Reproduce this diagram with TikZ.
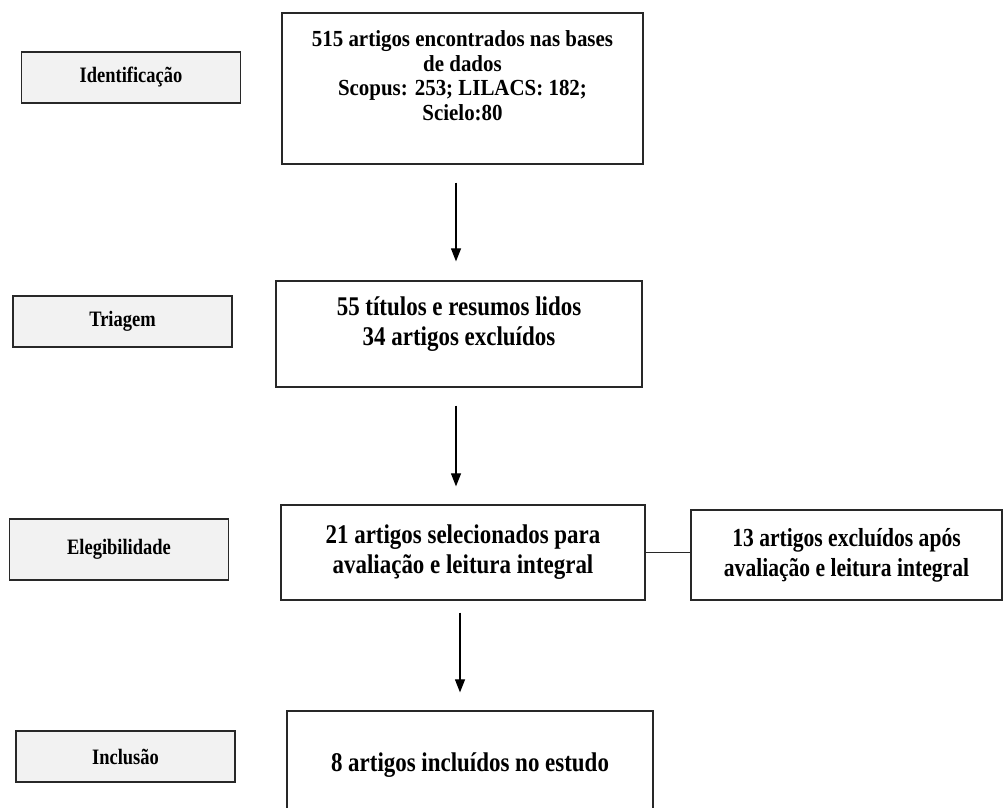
\documentclass[tikz,border=0pt]{standalone}
\usepackage{fontspec}
\setmainfont{Liberation Serif}
\newfontfamily\fA[FakeStretch=0.91]{Liberation Serif}
\newfontfamily\fB[FakeStretch=0.85]{Liberation Serif}
\newfontfamily\fE[FakeStretch=0.83]{Liberation Serif}
\newfontfamily\fL[FakeStretch=0.84]{Liberation Serif}
\usetikzlibrary{arrows.meta,calc}
\definecolor{labfill}{RGB}{242,242,242}
\definecolor{edge}{RGB}{40,40,40}
\begin{document}
\begin{tikzpicture}[x=1pt,y=-1pt,
  lab/.style={draw=edge, line width=1.3pt, fill=labfill, minimum width=219pt,
    minimum height=51pt, inner sep=0pt, font=\fL\bfseries\fontsize{22}{26}\selectfont},
  box/.style={draw=edge, line width=1.3pt, inner sep=0pt, align=center},
  txtA/.style={inner sep=0pt, align=center, font=\fA\bfseries\fontsize{23}{24.5}\selectfont},
  txtB/.style={inner sep=0pt, align=center, font=\fB\bfseries\fontsize{27}{30}\selectfont},
  txtC/.style={font=\fE\bfseries\fontsize{26}{30}\selectfont},
  arr/.style={draw=black, line width=1.1pt, -{Triangle[width=10pt,length=13pt]}},
  link/.style={draw=edge, line width=1.3pt}]
\useasboundingbox (0,0) rectangle (1004,807);
\clip (0,0) rectangle (1004,807);

% stage labels
\node[lab] (l1) at (131,77.5) {Identificação};
\node[lab] (l2) at (122.5,321.5) {Triagem};
\node[lab, minimum height=61pt] (l3) at (119,549.5) {Elegibilidade};
\node[lab] (l4) at (125.5,756.5) {Inclusão};

% main boxes
\node[box, minimum width=361pt, minimum height=151pt] (b1) at (462.5,88.5) {};
\node[txtA, anchor=north] (t1) at ($(b1.north)+(0,18)$)
  {515 artigos encontrados nas bases\\de dados\\Scopus: 253; LILACS: 182;\\Scielo:80};

\node[box, minimum width=366pt, minimum height=106pt] (b2) at (459,334) {};
\node[txtB, anchor=north] (t2) at ($(b2.north)+(0,16)$)
  {55 títulos e resumos lidos\\34 artigos excluídos};

\node[box, txtB, minimum width=364pt, minimum height=95pt] (b3) at (463,552.5)
  {21 artigos selecionados para\\avaliação e leitura integral};

\node[box, txtC, minimum width=311pt, minimum height=90pt] (ex) at (846.5,555)
  {13 artigos excluídos após\\avaliação e leitura integral};

\node[box, txtB, minimum width=366pt, minimum height=108pt] (b4) at (470,765)
  {8 artigos incluídos no estudo};

% connectors
\coordinate (ax1) at (456,0);
\coordinate (ax3) at (460,0);
\draw[arr, shorten <=18pt, shorten >=19pt] (b1.south -| ax1) -- (b2.north -| ax1);
\draw[arr, shorten <=18pt, shorten >=18pt] (b2.south -| ax1) -- (b3.north -| ax1);
\draw[arr, shorten <=12pt, shorten >=18pt] (b3.south -| ax3) -- (b4.north -| ax3);
\draw[link] (b3.east) -- (b3.east -| ex.west);
\end{tikzpicture}
\end{document}
